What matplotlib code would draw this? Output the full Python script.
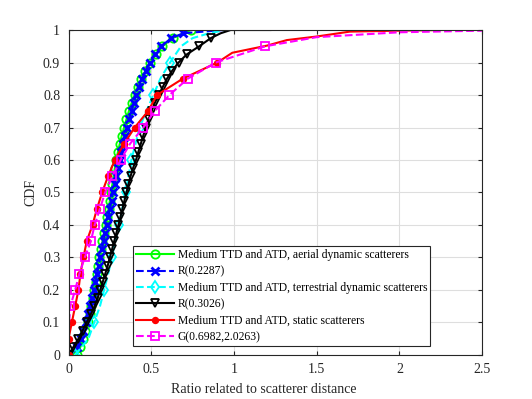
import matplotlib
matplotlib.use("Agg")
import matplotlib.pyplot as plt

plt.rcParams['font.family'] = ['Liberation Serif', 'DejaVu Serif']

# Medium TTD and ATD, aerial dynamic scatterers (empirical)
green_y = [0, 0.025, 0.05, 0.075, 0.1, 0.125, 0.15, 0.175, 0.2, 0.225, 0.25, 0.275, 0.3,
           0.325, 0.35, 0.375, 0.4, 0.425, 0.45, 0.475, 0.5, 0.525, 0.55, 0.575, 0.6,
           0.625, 0.65, 0.675, 0.7, 0.725, 0.75, 0.775, 0.8, 0.825, 0.85, 0.875, 0.9,
           0.925, 0.95, 0.975, 1.0]
green_x = [0.050, 0.072, 0.088, 0.102, 0.115, 0.127, 0.137, 0.147, 0.156, 0.164, 0.171, 0.178,
           0.186, 0.195, 0.205, 0.214, 0.224, 0.233, 0.242, 0.250, 0.258, 0.265, 0.272, 0.280,
           0.289, 0.299, 0.310, 0.322, 0.336, 0.350, 0.365, 0.381, 0.399, 0.418, 0.440, 0.465,
           0.493, 0.528, 0.568, 0.630, 0.740]

# R(0.2287)
blue_y = [0, 0.025, 0.05, 0.075, 0.1, 0.125, 0.15, 0.175, 0.2, 0.225, 0.25, 0.275, 0.3,
          0.325, 0.35, 0.375, 0.4, 0.425, 0.45, 0.475, 0.5, 0.525, 0.55, 0.575, 0.6,
          0.625, 0.65, 0.675, 0.7, 0.725, 0.75, 0.775, 0.8, 0.825, 0.85, 0.875, 0.9,
          0.925, 0.95, 0.975, 0.99, 1.0]
blue_x = [0.0, 0.052, 0.073, 0.090, 0.105, 0.118, 0.130, 0.142, 0.153, 0.163, 0.174, 0.183,
          0.193, 0.203, 0.212, 0.222, 0.231, 0.241, 0.250, 0.260, 0.269, 0.279, 0.289, 0.299,
          0.310, 0.320, 0.331, 0.343, 0.355, 0.368, 0.381, 0.395, 0.410, 0.427, 0.446, 0.466,
          0.491, 0.521, 0.560, 0.621, 0.694, 0.940]

# Medium TTD and ATD, terrestrial dynamic scatterers (empirical)
cyan_y = [0, 0.05, 0.1, 0.15, 0.2, 0.25, 0.3, 0.35, 0.4, 0.45, 0.5, 0.55, 0.6, 0.65,
          0.7, 0.75, 0.8, 0.85, 0.9, 0.95, 0.975, 0.99, 1.0]
cyan_x = [0.040, 0.120, 0.155, 0.190, 0.215, 0.240, 0.262, 0.282, 0.305, 0.325, 0.345, 0.362,
          0.380, 0.405, 0.430, 0.470, 0.513, 0.555, 0.614, 0.680, 0.750, 0.850, 0.950]

# R(0.3026)
black_y = [0, 0.025, 0.05, 0.075, 0.1, 0.125, 0.15, 0.175, 0.2, 0.225, 0.25, 0.275, 0.3,
           0.325, 0.35, 0.375, 0.4, 0.425, 0.45, 0.475, 0.5, 0.525, 0.55, 0.575, 0.6,
           0.625, 0.65, 0.675, 0.7, 0.725, 0.75, 0.775, 0.8, 0.825, 0.85, 0.875, 0.9,
           0.925, 0.95, 0.975, 0.99, 1.0, 1.0]
black_x = [0.0, 0.030, 0.060, 0.085, 0.110, 0.135, 0.157, 0.176, 0.192, 0.207, 0.222, 0.237,
           0.250, 0.263, 0.276, 0.289, 0.302, 0.314, 0.326, 0.338, 0.350, 0.362, 0.375, 0.390,
           0.408, 0.422, 0.437, 0.452, 0.468, 0.484, 0.502, 0.521, 0.545, 0.570, 0.595, 0.627,
           0.665, 0.715, 0.790, 0.860, 0.920, 0.980, 1.220]

# Medium TTD and ATD, static scatterers (empirical)
red_y = [0, 0.05, 0.1, 0.15, 0.2, 0.25, 0.3, 0.35, 0.4, 0.45, 0.5, 0.55, 0.6, 0.65, 0.7,
         0.75, 0.8, 0.85, 0.9, 0.93, 0.952, 0.969, 0.98, 0.995, 0.998, 1.0]
red_x = [0.0, 0.0, 0.020, 0.040, 0.060, 0.072, 0.090, 0.110, 0.145, 0.172, 0.203, 0.239,
         0.280, 0.336, 0.400, 0.480, 0.535, 0.690, 0.900, 0.990, 1.200, 1.320, 1.500, 1.700,
         2.000, 2.260]

# G(0.6982,2.0263)
mag_y = [0, 0.1, 0.15, 0.2, 0.25, 0.3, 0.35, 0.4, 0.45, 0.5, 0.55, 0.6, 0.65, 0.7, 0.75,
         0.8, 0.85, 0.9, 0.95, 0.978, 0.993, 0.998]
mag_x = [0.0, 0.003, 0.011, 0.040, 0.066, 0.098, 0.135, 0.158, 0.190, 0.221, 0.265, 0.315,
         0.372, 0.452, 0.520, 0.610, 0.720, 0.890, 1.190, 1.500, 2.000, 2.500]

labels = ['Medium TTD and ATD, aerial dynamic scatterers',
          'R(0.2287)',
          'Medium TTD and ATD, terrestrial dynamic scatterers',
          'R(0.3026)',
          'Medium TTD and ATD, static scatterers',
          'G(0.6982,2.0263)']

fig = plt.figure(figsize=(5.32, 3.99), dpi=100)
ax = fig.add_axes([0.1288, 0.1103, 0.7774, 0.8145])

ax.plot(green_x, green_y, '-', color='#00ff00', lw=1.5, marker='o', ms=6,
        mfc='none', mew=1.3, label=labels[0])
ax.plot(blue_x, blue_y, '--', color='#0000ff', lw=1.5, marker='x', ms=5.5,
        mew=2, markevery=list(range(len(blue_x) - 1)), label=labels[1])
ax.plot(cyan_x, cyan_y, '--', color='#00ffff', lw=1.5, marker='d', ms=6,
        mfc='none', mew=1.3, markevery=list(range(0, 19, 2)), label=labels[2])
ax.plot(black_x, black_y, '-', color='black', lw=1.5, marker='v', ms=6,
        mfc='none', mew=1.3, markevery=list(range(len(black_x) - 3)), label=labels[3])
ax.plot(red_x, red_y, '-', color='#ff0000', lw=1.5, marker='o', ms=4,
        mew=1.3, markevery=list(range(19)), label=labels[4])
ax.plot(mag_x, mag_y, '--', color='#ff00ff', lw=1.5, marker='s', ms=6,
        mfc='none', mew=1.3, markevery=list(range(2, 19)), label=labels[5])

ax.set_xlim(0, 2.5)
ax.set_ylim(0, 1)
ax.set_xticks([0, 0.5, 1, 1.5, 2, 2.5])
ax.set_xticklabels(['0', '0.5', '1', '1.5', '2', '2.5'])
ax.set_yticks([0, 0.1, 0.2, 0.3, 0.4, 0.5, 0.6, 0.7, 0.8, 0.9, 1])
ax.set_yticklabels(['0', '0.1', '0.2', '0.3', '0.4', '0.5', '0.6', '0.7', '0.8', '0.9', '1'])
ax.grid(True, color='#dedede', lw=0.8)
ax.set_axisbelow(True)
ax.tick_params(direction='in', top=True, right=True, labelsize=10, length=3, pad=6,
               color='#262626', labelcolor='#262626')
for s in ax.spines.values():
    s.set_color('#262626')
    s.set_linewidth(0.8)

ax.set_xlabel('Ratio related to scatterer distance', fontsize=10, color='#262626')
ax.xaxis.set_label_coords(0.473, -0.085)
ax.set_ylabel('CDF', fontsize=10, color='#262626')

leg = ax.legend(loc='lower left', bbox_to_anchor=(0.156, 0.028), fontsize=8.4,
                handlelength=3.3, handletextpad=0.3, borderpad=0.25,
                labelspacing=0.37, borderaxespad=0, fancybox=False, framealpha=1)
leg.get_frame().set_edgecolor('#262626')
leg.get_frame().set_linewidth(0.8)

fig.savefig('out.png', dpi=100)
